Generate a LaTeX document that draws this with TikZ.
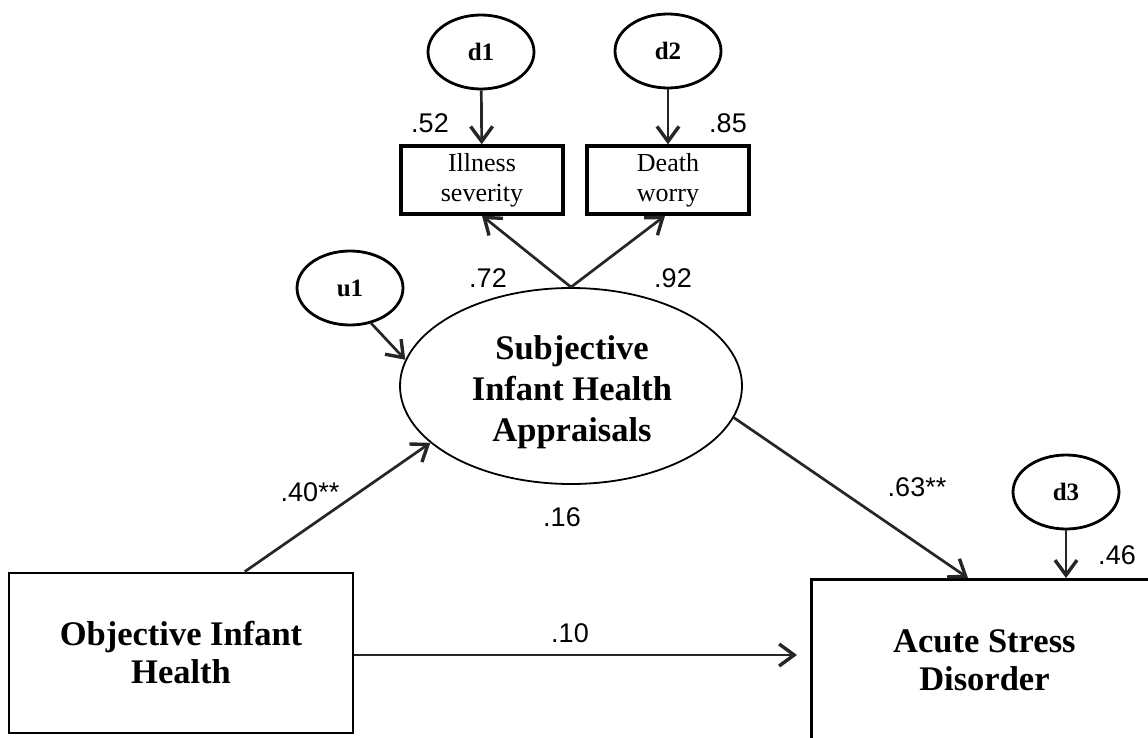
\documentclass[tikz,border=0pt]{standalone}
\usepackage{fontspec}
\setmainfont{Liberation Serif}
\newfontfamily\numfont{Liberation Sans}
\usetikzlibrary{arrows.meta,shapes.geometric,calc}

\tikzset{
  path/.style={draw=black!85, line width=2.7pt,
    -{Straight Barb[length=15pt,width=22pt,line width=3.4pt]}},
  errell/.style={ellipse, draw, line width=2.8pt, inner sep=0pt,
    minimum width=106pt, minimum height=74pt,
    font=\fontsize{25}{27}\selectfont\bfseries},
  smallbox/.style={rectangle, draw, line width=3.4pt, inner sep=0pt,
    minimum width=162pt, minimum height=68pt, align=center,
    font=\fontsize{26}{30}\selectfont},
  bigbox/.style={rectangle, draw, line width=2.8pt, inner sep=0pt, align=center,
    font=\fontsize{34.5}{38}\selectfont\bfseries},
  coef/.style={font=\numfont\fontsize{27}{29}\selectfont, inner sep=0pt}
}

\begin{document}
\begin{tikzpicture}[x=1pt,y=-1pt]
\useasboundingbox (0,0) rectangle (1148,738);
\fill[white] (0,0) rectangle (1148,738);
\clip (0,0) rectangle (1148,738);

% disturbance terms of the indicators
\node[errell] (d1) at (481,52) {d1};
\node[errell] (d2) at (668,51) {d2};

% indicators
\node[smallbox] (ill) at (482,180) {Illness\\severity};
\node[smallbox] (dea) at (668,180) {Death\\worry};

% latent construct and its disturbance
\node[ellipse, draw, line width=1.8pt, minimum width=342pt, minimum height=196pt,
  inner sep=0pt] (lat) at (571,386) {};
\node[align=center, inner sep=0pt, font=\fontsize{34.5}{41}\selectfont\bfseries]
  (latt) at (572,392) {Subjective\\Infant Health\\Appraisals};
\node[errell] (u1) at (350,288) {u1};

% observed variables
\node[bigbox, minimum width=344pt, minimum height=160pt] (obj) at (181,653)
  {Objective Infant\\Health};
\node[bigbox, minimum width=346pt, minimum height=162pt, anchor=north west]
  (asd) at (810,578) {Acute Stress\\Disorder};
\node[errell] (d3) at (1066,492) {d3};

% paths
\draw[path] (d1) -- (ill);
\draw[path] (d2) -- (dea);
\draw[path] (lat.north) -- (ill.south);
\draw[path] (lat.north) -- ($(dea.south)+(-3,0)$);
\draw[path] (u1.-59) -- (lat.171);
\draw[path] ($(obj.north west)!0.684!(obj.north east)$) -- (lat.202);
\draw[path] (lat.-11) -- ($(asd.north west)+(158,0)$);
\draw[path, shorten >=13pt] (obj.east |- 0,655) -- (asd.west |- 0,655);
\draw[path] (d3) -- (d3 |- asd.north);

% coefficients
\node[coef] (c52) at (430,123) {.52};
\node[coef] (c85) at (728,123) {.85};
\node[coef] (c72) at (488,278) {.72};
\node[coef] (c92) at (673,278) {.92};
\node[coef] (c16) at (562,517) {.16};
\node[coef] (c40) at (310,492) {.40**};
\node[coef] (c63) at (917,487) {.63**};
\node[coef] (c46) at (1117,555) {.46};
\node[coef] (c10) at (570,633) {.10};
\end{tikzpicture}
\end{document}
